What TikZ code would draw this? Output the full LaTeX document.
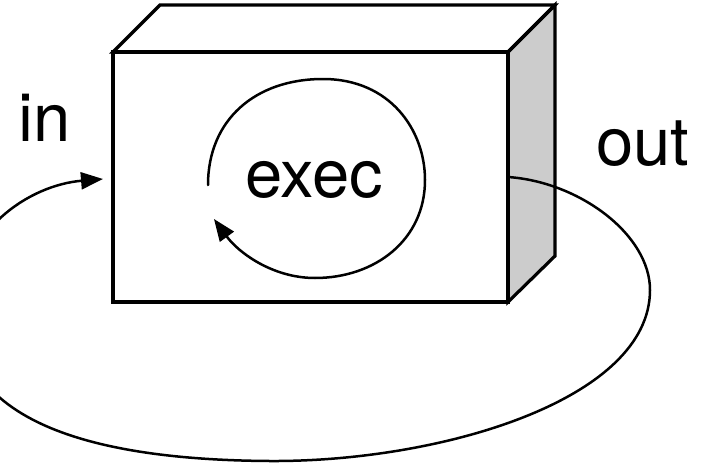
\documentclass[tikz,border=0pt]{standalone}
\usepackage{fontspec}
\setmainfont{TeX Gyre Heros}
\usetikzlibrary{arrows.meta}
\begin{document}
\begin{tikzpicture}[x=1pt,y=-1pt,
  boxedge/.style={line width=3.2pt,line join=miter},
  flow/.style={line width=2.5pt,line cap=round},
  tipped/.style={flow,-{Triangle[length=22pt,width=17pt]}},
  label/.style={font=\fontsize{67}{78}\selectfont,inner sep=0pt,anchor=base}]
\useasboundingbox (0,0) rectangle (712,463);
\clip (0,0) rectangle (712,463);

% box corners
\coordinate (fl) at (113,52);
\coordinate (fr) at (508,52);
\coordinate (bl) at (160,5);
\coordinate (br) at (555,5);
\coordinate (fbr) at (508,302);
\coordinate (fbl) at (113,302);
\coordinate (bbr) at (555,256);

% side, top and front faces
\filldraw[boxedge,fill=black!20] (fr) -- (br) -- (bbr) -- (fbr) -- cycle;
\draw[boxedge] (fl) -- (bl) -- (br) -- (fr) -- cycle;
\draw[boxedge] (fl) rectangle (fbr);

% labels
\node[label] (exec) at (314,197) {exec};
\node[label] (in) at (45,141) {in};
\node[label] (out) at (643,165) {out};

% the loop inside the box
\coordinate (ls) at (208,185);
\coordinate (le) at (214,219);
\draw[tipped] (ls) .. controls (208,120) and (255,79) .. (323,79)
  .. controls (390,79) and (425,130) .. (425,180)
  .. controls (425,240) and (375,278) .. (315,278)
  .. controls (272,278) and (238,252) .. (le);

% feedback from output back to input
\coordinate (os) at (508,177);
\coordinate (ie) at (103,179);
\draw[tipped] (os) .. controls (580,182) and (650,235) .. (650,290)
  .. controls (650,400) and (440,462) .. (270,461)
  .. controls (100,460) and (-40,425) .. (-40,310)
  .. controls (-40,230) and (30,185) .. (ie);
\end{tikzpicture}
\end{document}
